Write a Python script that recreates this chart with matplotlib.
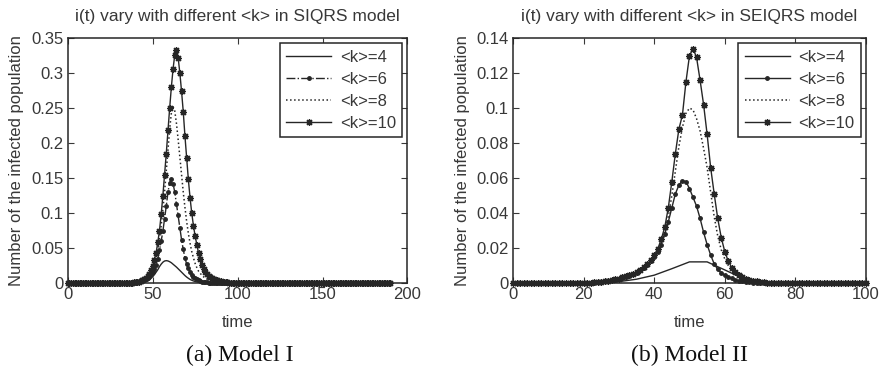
import numpy as np
from matplotlib import pyplot as plt
from matplotlib.ticker import FuncFormatter

# Model I (SIQRS): time steps, curves leave zero only inside win_a
t_a = np.arange(0, 191)
win_a = np.arange(30, 101)
k4_a = [0, 0, 0, 0, 0, 0, 0, 0, 0, 0.0001,
        0.0002, 0.0003, 0.0005, 0.0007, 0.001, 0.0015, 0.002, 0.003, 0.0045, 0.0065,
        0.009, 0.012, 0.0155, 0.019, 0.0235, 0.027, 0.0298, 0.0315, 0.032, 0.0316,
        0.0305, 0.029, 0.027, 0.025, 0.0228, 0.0205, 0.018, 0.0155, 0.013, 0.0107,
        0.0086, 0.0068, 0.0052, 0.004, 0.003, 0.0022, 0.0016, 0.0011, 0.0007, 0.0004,
        0.0002, 0.0001, 0, 0, 0, 0, 0, 0, 0, 0,
        0, 0, 0, 0, 0, 0, 0, 0, 0, 0, 0]
k6_a = [0.0001, 0.0001, 0.0001, 0.0002, 0.0002, 0.0003, 0.0003, 0.0004, 0.0005, 0.0006,
        0.0008, 0.0012, 0.0017, 0.0023, 0.003, 0.004, 0.0055, 0.0075, 0.010, 0.013,
        0.016, 0.020, 0.026, 0.035, 0.047, 0.060, 0.074, 0.092, 0.110, 0.130,
        0.143, 0.148, 0.142, 0.130, 0.113, 0.097, 0.079, 0.062, 0.048, 0.036,
        0.027, 0.021, 0.016, 0.012, 0.0092, 0.007, 0.0053, 0.004, 0.003, 0.0022,
        0.0016, 0.0012, 0.0008, 0.0005, 0.0003, 0.0002, 0.0001, 0, 0, 0,
        0, 0, 0, 0, 0, 0, 0, 0, 0, 0, 0]
k8_a = [0.0001, 0.0001, 0.0001, 0.0002, 0.0002, 0.0003, 0.0004, 0.0005, 0.0006, 0.0008,
        0.001, 0.0013, 0.0017, 0.0023, 0.003, 0.004, 0.0055, 0.0075, 0.0105, 0.0145,
        0.020, 0.027, 0.036, 0.048, 0.063, 0.082, 0.105, 0.130, 0.160, 0.190,
        0.220, 0.243, 0.252, 0.246, 0.228, 0.205, 0.180, 0.155, 0.130, 0.108,
        0.088, 0.071, 0.057, 0.045, 0.036, 0.028, 0.022, 0.017, 0.014, 0.011,
        0.0088, 0.007, 0.0056, 0.0045, 0.0036, 0.0029, 0.0023, 0.0018, 0.0014, 0.0011,
        0.0008, 0.0006, 0.0004, 0.0003, 0.0002, 0.0001, 0, 0, 0, 0, 0]
k10_a = [0.0001, 0.0001, 0.0001, 0.0002, 0.0002, 0.0003, 0.0004, 0.0005, 0.0006, 0.0008,
         0.001, 0.0015, 0.0022, 0.0032, 0.0045, 0.006, 0.0078, 0.0095, 0.013, 0.018,
         0.024, 0.033, 0.043, 0.058, 0.075, 0.098, 0.125, 0.155, 0.185, 0.218,
         0.250, 0.280, 0.306, 0.326, 0.333, 0.322, 0.300, 0.274, 0.245, 0.210,
         0.178, 0.148, 0.122, 0.100, 0.082, 0.067, 0.055, 0.043, 0.034, 0.026,
         0.020, 0.016, 0.013, 0.0105, 0.0085, 0.007, 0.0058, 0.0047, 0.0038, 0.0031,
         0.0025, 0.002, 0.0016, 0.0012, 0.0009, 0.0007, 0.0005, 0.0003, 0.0002, 0.0001, 0]

# Model II (SEIQRS)
t_b = np.arange(0, 101)
win_b = np.arange(20, 76)
t4_b = np.arange(0, 101, 5)   # <k>=4 was stored on a coarser grid
k4_b = [0, 0, 0, 0, 0, 0, 0.0008, 0.0022, 0.0045, 0.0082, 0.0121,
        0.0121, 0.0075, 0.0028, 0.0006, 0, 0, 0, 0, 0, 0]
k6_b = [0, 0, 0.0002, 0.0003, 0.0005, 0.0007, 0.0009, 0.0012, 0.0016, 0.002,
        0.0025, 0.003, 0.0036, 0.0043, 0.0051, 0.006, 0.0072, 0.0086, 0.0103, 0.0124,
        0.0148, 0.018, 0.022, 0.028, 0.035, 0.043, 0.051, 0.056, 0.0585, 0.058,
        0.054, 0.049, 0.044, 0.037, 0.029, 0.022, 0.016, 0.011, 0.0078, 0.0058,
        0.0045, 0.0035, 0.0027, 0.002, 0.0014, 0.001, 0.0007, 0.0004, 0.0002, 0.0001,
        0, 0, 0, 0, 0, 0]
k8_b = [0, 0, 0.0002, 0.0004, 0.0006, 0.0008, 0.001, 0.0013, 0.0017, 0.0021,
        0.0026, 0.0031, 0.0037, 0.0044, 0.0052, 0.0062, 0.0074, 0.0088, 0.0105, 0.0126,
        0.0152, 0.0186, 0.023, 0.029, 0.038, 0.050, 0.064, 0.078, 0.089, 0.097,
        0.100, 0.099, 0.094, 0.087, 0.077, 0.066, 0.052, 0.038, 0.027, 0.019,
        0.0138, 0.0100, 0.0073, 0.0054, 0.004, 0.003, 0.0022, 0.0016, 0.0011, 0.0007,
        0.0004, 0.0002, 0.0001, 0, 0, 0]
k10_b = [0, 0, 0.0002, 0.0004, 0.0006, 0.0008, 0.001, 0.0013, 0.0017, 0.0021,
         0.0026, 0.0032, 0.0038, 0.0045, 0.0053, 0.0063, 0.0075, 0.009, 0.0108, 0.013,
         0.0158, 0.0195, 0.025, 0.032, 0.043, 0.058, 0.074, 0.088, 0.096, 0.115,
         0.130, 0.134, 0.129, 0.116, 0.102, 0.085, 0.066, 0.051, 0.037, 0.026,
         0.018, 0.0125, 0.0088, 0.0063, 0.0046, 0.0034, 0.0025, 0.0018, 0.0013, 0.0009,
         0.0006, 0.0004, 0.0002, 0.0001, 0, 0]

labels = ['<k>=4', '<k>=6', '<k>=8', '<k>=10']


def full_series(t, win, vals):
    # zero baseline outside the window where the epidemic happens
    y = np.zeros(len(t))
    y[np.isin(t, win)] = vals
    return y


ink = '#262626'
txt = '#383838'
fs = 12
plt.rcParams['font.family'] = ['Liberation Sans', 'DejaVu Sans']
plt.rcParams['text.color'] = txt
plt.rcParams['axes.labelcolor'] = txt
plt.rcParams['xtick.color'] = txt
plt.rcParams['ytick.color'] = txt

fig = plt.figure(figsize=(8.8, 3.7), dpi=100)
ax_a = fig.add_axes([0.077, 0.235, 0.386, 0.662])
ax_b = fig.add_axes([0.583, 0.235, 0.401, 0.662])

ast = (8, 2, 0)  # matlab-like asterisk

# --- Model I
ax_a.plot(t_a, full_series(t_a, win_a, k4_a), '-', color=ink, lw=1.0, label=labels[0])
ax_a.plot(t_a, full_series(t_a, win_a, k6_a), '-.', color=ink, lw=1.0,
          marker='.', ms=5, clip_on=False, label=labels[1])
ax_a.plot(t_a, full_series(t_a, win_a, k8_a), ':', color=ink, lw=1.1, label=labels[2])
ax_a.plot(t_a, full_series(t_a, win_a, k10_a), '-', color=ink, lw=1.0,
          marker=ast, ms=5, mew=0.9, clip_on=False, label=labels[3])
ax_a.set_xlim(0, 200)
ax_a.set_ylim(0, 0.35)
ax_a.set_xticks([0, 50, 100, 150, 200])
ax_a.set_yticks(np.arange(0, 0.351, 0.05))
ax_a.set_title('i(t) vary with different <k> in SIQRS model', fontsize=12.5, color=txt, pad=12)

# --- Model II
ax_b.plot(t4_b, k4_b, '-', color=ink, lw=1.0, label=labels[0])
ax_b.plot(t_b, full_series(t_b, win_b, k6_b), '-', color=ink, lw=1.0,
          marker='.', ms=5, clip_on=False, label=labels[1])
ax_b.plot(t_b, full_series(t_b, win_b, k8_b), ':', color=ink, lw=1.1, label=labels[2])
ax_b.plot(t_b, full_series(t_b, win_b, k10_b), '-', color=ink, lw=1.0,
          marker=ast, ms=5, mew=0.9, clip_on=False, label=labels[3])
ax_b.set_xlim(0, 100)
ax_b.set_ylim(0, 0.14)
ax_b.set_xticks([0, 20, 40, 60, 80, 100])
ax_b.set_yticks(np.arange(0, 0.141, 0.02))
ax_b.set_title('i(t) vary with different <k> in SEIQRS model', fontsize=12.5, color=txt, pad=12)

for ax in (ax_a, ax_b):
    ax.yaxis.set_major_formatter(FuncFormatter(lambda v, p: '%g' % round(v, 4)))
    ax.tick_params(direction='in', top=True, right=True, length=4, labelsize=fs, pad=3)
    for sp in ax.spines.values():
        sp.set_color(ink)
        sp.set_linewidth(1.1)
    ax.set_xlabel('time', fontsize=fs, labelpad=9)
    ax.set_ylabel('Number of the infected population', fontsize=fs, labelpad=5)
    leg = ax.legend(loc='upper right', fancybox=False, edgecolor=ink, framealpha=1,
                    fontsize=fs, handlelength=2.7, borderaxespad=0.3,
                    labelspacing=0.42, borderpad=0.4, handletextpad=0.5)
    leg.get_frame().set_linewidth(1.1)

fig.text(0.272, 0.025, '(a) Model I', family='Liberation Serif', fontsize=17,
         color='#111111', ha='center')
fig.text(0.784, 0.025, '(b) Model II', family='Liberation Serif', fontsize=17,
         color='#111111', ha='center')

fig.savefig('out.png', dpi=100)
